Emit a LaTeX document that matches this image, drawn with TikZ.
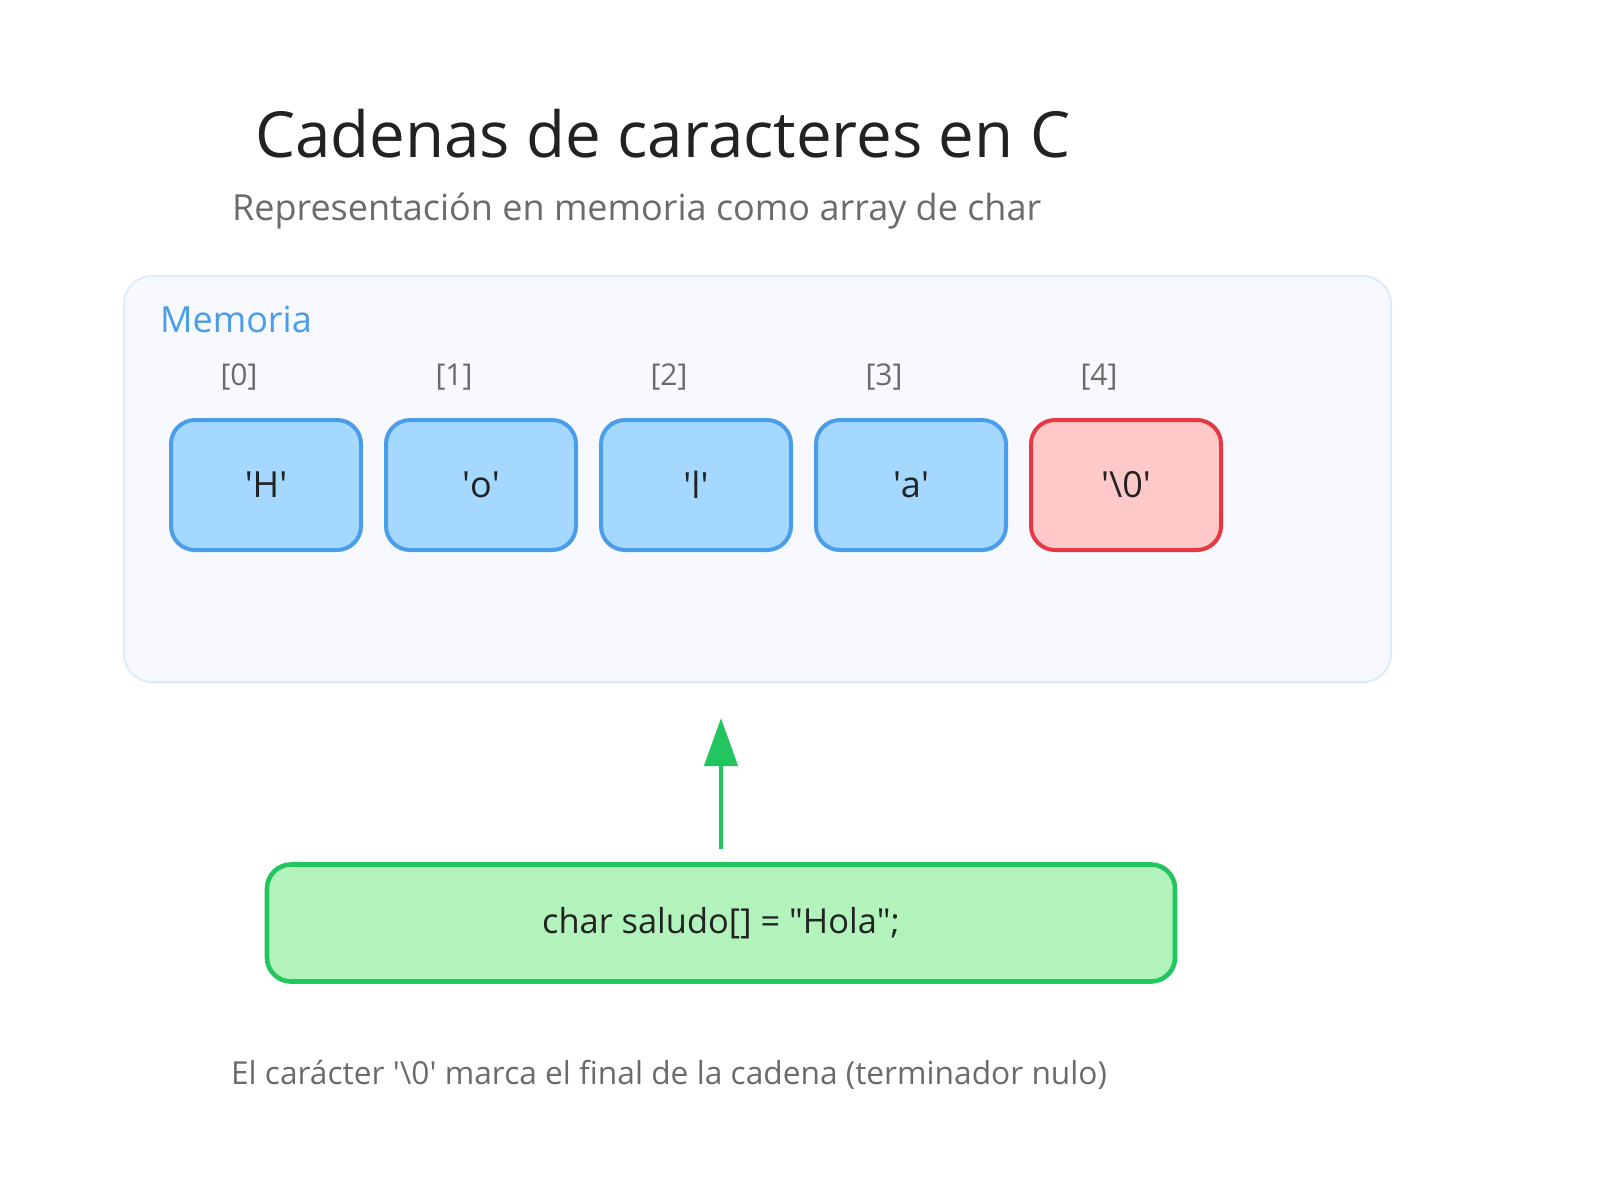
\documentclass[tikz,border=0pt]{standalone}
\usepackage{fontspec}
\setmainfont{Open Sans}
\usetikzlibrary{arrows.meta}
\definecolor{titlegray}{HTML}{222222}
\definecolor{textgray}{HTML}{6B6B6B}
\definecolor{memblue}{HTML}{4A9DE8}
\definecolor{panelfill}{HTML}{F7F9FE}
\definecolor{panelline}{HTML}{DDEBFB}
\definecolor{cellfill}{HTML}{A5D8FF}
\definecolor{nullfill}{HTML}{FFC9C9}
\definecolor{nullline}{HTML}{E63946}
\definecolor{codefill}{HTML}{B2F2BB}
\definecolor{codeline}{HTML}{22C55E}
\newcommand{\sq}{\textquotesingle}
\begin{document}
\begin{tikzpicture}[x=0.5pt, y=-0.5pt,
  cell/.style={draw=memblue, fill=cellfill, line width=2pt, rounded corners=12pt,
    minimum width=95pt, minimum height=65pt, inner sep=0pt, text=titlegray,
    font=\fontsize{18}{21}\selectfont},
  nullcell/.style={cell, draw=nullline, fill=nullfill},
  index/.style={anchor=base, text=textgray, font=\fontsize{15}{18}\selectfont},
  codebox/.style={draw=codeline, fill=codefill, line width=2.3pt, rounded corners=12pt,
    minimum width=454pt, minimum height=58.5pt, inner sep=0pt, text=titlegray,
    font=\fontsize{17.2}{21}\selectfont}]
\useasboundingbox (0, 0) rectangle (1600, 1200);
\node[anchor=base west, text=titlegray, font=\fontsize{31.8}{38}\selectfont] (title) at (248, 157) {Cadenas de caracteres en C}; % title
\node[anchor=base west, text=textgray, font=\fontsize{18}{22}\selectfont] (subtitle) at (225, 220) {Representación en memoria como array de char}; % subtitle
\draw[draw=panelline, fill=panelfill, line width=1pt, rounded corners=14pt] (124, 276) rectangle (1391, 682); % memoria panel
\node[anchor=base west, text=memblue, font=\fontsize{18}{22}\selectfont] (memlabel) at (153, 332) {Memoria}; % memoria label
\node[index] (idx0) at (239, 385) {[0]};
\node[index] (idx1) at (454, 385) {[1]};
\node[index] (idx2) at (669, 385) {[2]};
\node[index] (idx3) at (884, 385) {[3]};
\node[index] (idx4) at (1099, 385) {[4]};
\node[cell] (cell0) at (266, 485) {\sq H\sq}; % cell.0
\node[cell] (cell1) at (481, 485) {\sq o\sq}; % cell.1
\node[cell] (cell2) at (696, 485) {\sq l\sq}; % cell.2
\node[cell] (cell3) at (911, 485) {\sq a\sq}; % cell.3
\node[nullcell] (cell4) at (1126, 485) {\sq\textbackslash 0\sq}; % cell.4
\node[codebox] (code) at (721, 923) {char saludo[] = \textquotedbl Hola\textquotedbl;}; % declaration
\coordinate (tip) at (721, 718);
\draw[draw=codeline, line width=2.25pt, shorten <=6.5pt, -{Triangle[length=24pt, width=16.5pt]}] (code.north) -- (tip); % pointer
\node[anchor=base west, text=textgray, font=\fontsize{15.85}{19}\selectfont] (note) at (224, 1084) {El carácter \sq\textbackslash 0\sq{} marca el final de la cadena (terminador nulo)}; % note
\end{tikzpicture}
\end{document}
